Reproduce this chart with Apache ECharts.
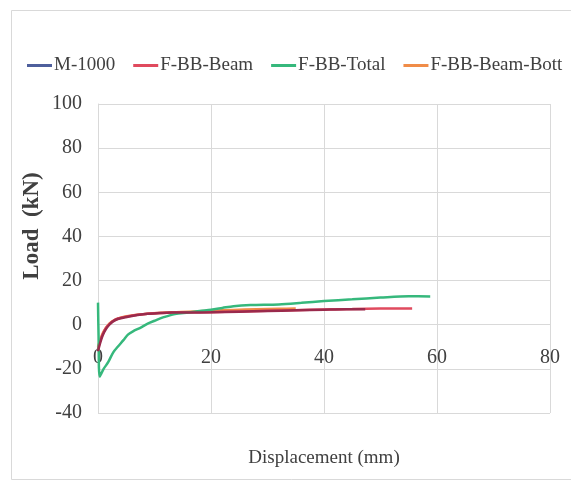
<!DOCTYPE html>
<html>
<head>
<meta charset="utf-8">
<script src="https://cdn.jsdelivr.net/npm/echarts@6/dist/echarts.min.js"></script>
<style>html,body{margin:0;padding:0;background:#fff}#c{width:571px;height:482px}</style>
</head>
<body>
<div id="c"></div>
<script>
var seriesNames = ['M-1000', 'F-BB-Beam', 'F-BB-Total', 'F-BB-Beam-Bott'];
var xTicks = [0, 20, 40, 60, 80];
var yTicks = [-40, -20, 0, 20, 40, 60, 80, 100];

var m1000X = [0, 0.3, 0.8, 1.4, 2, 2.6, 3.5, 5.3, 7, 8.8, 11, 13, 16, 20, 25, 30, 35, 40, 44, 47.3];
var m1000Y = [-12, -9, -5, -2, 0, 1.4, 2.6, 3.6, 4.4, 5.0, 5.3, 5.5, 5.5, 5.6, 5.9, 6.2, 6.5, 6.8, 7.0, 7.0];

var beamX = [0, 0.3, 0.8, 1.4, 2, 2.6, 3.5, 5.3, 7, 8.8, 11, 13, 16, 20, 25, 30, 35, 40, 45, 50, 55.6];
var beamY = [-11, -8, -4.5, -1.5, 0.3, 1.6, 2.8, 3.8, 4.5, 5.0, 5.3, 5.5, 5.6, 5.7, 6.0, 6.3, 6.6, 6.9, 7.1, 7.3, 7.4];

var totalX = [0, 0.1, 0.3, 1, 1.8, 2.7, 3.5, 4.5, 5.3, 6.2, 7.4, 8.8, 10, 11.5, 13.6, 16, 18, 20, 22, 24, 27, 32, 36, 40, 45, 50, 55, 58.8];
var totalY = [10, -5, -23.5, -20, -17, -12.5, -10, -7, -4.5, -3, -1.5, 0.5, 1.8, 3.3, 4.8, 5.5, 6.2, 6.8, 7.6, 8.4, 8.9, 9.2, 9.9, 10.7, 11.5, 12.3, 12.9, 12.8];

var bottX = [0, 0.5, 1, 2, 3, 5, 8, 12, 16, 20, 24, 28, 32, 35];
var bottY = [-10, -6, -3, 0.5, 2.2, 3.8, 4.8, 5.5, 5.9, 6.3, 6.7, 7.0, 7.2, 7.3];

function pairs(xs, ys) { return xs.map(function (x, i) { return [x, ys[i]]; }); }

var font = '"Liberation Serif", "Times New Roman", serif';
var chart = echarts.init(document.getElementById('c'), null, {renderer: 'canvas'});
chart.setOption({
  animation: false,
  backgroundColor: '#fff',
  graphic: [
    {type: 'rect', left: 9, top: 8, shape: {x: 0, y: 0, width: 570, height: 469}, style: {fill: 'none', stroke: '#d9d9d9', lineWidth: 1}, silent: true},
    {type: 'text', x: 32, y: 226, rotation: Math.PI / 2, style: {text: 'Load  (kN)', font: 'bold 23px ' + font, fill: '#404040', textAlign: 'center', textVerticalAlign: 'middle'}}
  ],
  legend: {
    left: 22, top: 51,
    icon: 'rect', itemWidth: 25, itemHeight: 3, itemGap: 18,
    textStyle: {fontFamily: font, fontSize: 19, color: '#404040', padding: [0, 0, 0, -3]},
    data: [
      {name: seriesNames[0], itemStyle: {color: '#4e5f9c'}},
      {name: seriesNames[1], itemStyle: {color: '#e04a5e'}},
      {name: seriesNames[2], itemStyle: {color: '#36b87c'}},
      {name: seriesNames[3], itemStyle: {color: '#f08c48'}}
    ]
  },
  grid: {left: 98, right: 21, top: 104, bottom: 69, containLabel: false, outerBoundsMode: 'none'},
  xAxis: {
    type: 'value', min: 0, max: 80, interval: 20,
    position: 'bottom', offset: -88.3,
    name: 'Displacement (mm)', nameLocation: 'middle', nameGap: 124,
    nameTextStyle: {fontFamily: font, fontSize: 19, color: '#404040'},
    axisLine: {show: true, onZero: false, lineStyle: {color: '#d9d9d9'}},
    axisTick: {show: false},
    axisLabel: {fontFamily: font, fontSize: 20, color: '#404040', margin: 23,
      formatter: function (v) { return xTicks.indexOf(v) >= 0 ? String(v) : ''; }},
    splitLine: {show: true, lineStyle: {color: '#d9d9d9', width: 1}}
  },
  yAxis: {
    type: 'value', min: -40, max: 100, interval: 20,
    axisLine: {show: true, onZero: false, lineStyle: {color: '#d9d9d9'}},
    axisTick: {show: false},
    axisLabel: {fontFamily: font, fontSize: 20, color: '#404040', margin: 16,
      formatter: function (v) { return yTicks.indexOf(v) >= 0 ? String(v) : ''; }},
    splitLine: {show: true, lineStyle: {color: '#d9d9d9', width: 1}}
  },
  series: [
    {name: seriesNames[0], type: 'line', z: 5, symbol: 'none', smooth: 0.3, data: pairs(m1000X, m1000Y),
      itemStyle: {color: '#4e5f9c'}, lineStyle: {color: '#9a2a4c', width: 2.5}},
    {name: seriesNames[1], type: 'line', z: 3, symbol: 'none', smooth: 0.3, data: pairs(beamX, beamY),
      itemStyle: {color: '#e04a5e'}, lineStyle: {color: '#e04a5e', width: 2.5}},
    {name: seriesNames[2], type: 'line', z: 4, symbol: 'none', smooth: 0.3, data: pairs(totalX, totalY),
      itemStyle: {color: '#36b87c'}, lineStyle: {color: '#36b87c', width: 2.5}},
    {name: seriesNames[3], type: 'line', z: 2, symbol: 'none', smooth: 0.3, data: pairs(bottX, bottY),
      itemStyle: {color: '#f08c48'}, lineStyle: {color: '#f08c48', width: 2.5}}
  ]
});
</script>
</body>
</html>
